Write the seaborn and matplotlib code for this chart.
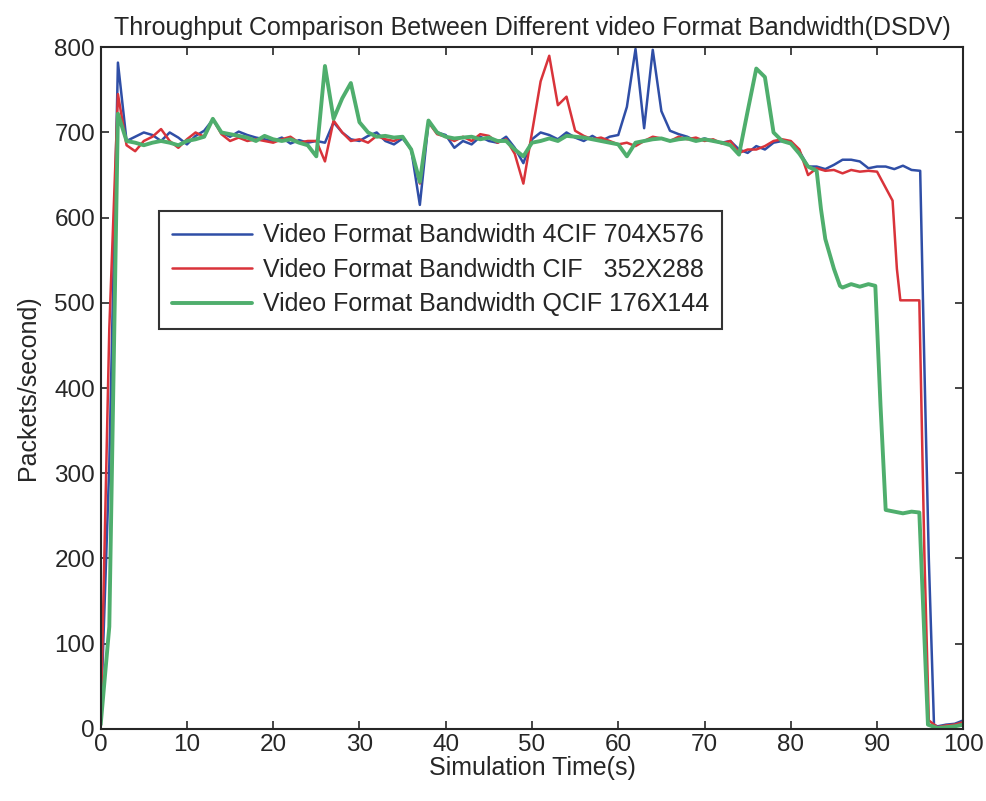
import pandas as pd
import matplotlib
matplotlib.use('Agg')
import matplotlib.pyplot as plt
import seaborn as sns

# Series data (time in s, packets/second)
t_4cif = list(range(0, 95)) + [95, 95.5, 96, 96.6, 97, 98, 99, 100]
v_4cif = [10, 310, 782, 690, 695, 700, 697, 690, 700, 694, 686,
          696, 702, 715, 700, 695, 701, 697, 694, 692, 690,
          694, 687, 691, 688, 690, 688, 712, 700, 692, 690,
          696, 700, 690, 686, 693, 680, 615, 712, 700, 697,
          682, 690, 686, 695, 690, 688, 695, 682, 664, 692,
          700, 697, 692, 700, 694, 690, 696, 690, 695, 697,
          730, 798, 705, 797, 725, 702, 698, 695, 690, 693,
          690, 688, 690, 680, 676, 684, 680, 688, 690, 688,
          678, 660, 660, 657, 662, 668, 668, 666, 658, 660,
          660, 657, 661, 656,
          655, 420, 200, 5, 3, 5, 6, 10]

t_cif = list(range(0, 91)) + [91.8, 92.3, 92.7, 93, 94, 94.9, 95.5, 96, 97, 98, 99, 100]
v_cif = [5, 470, 745, 685, 678, 690, 695, 704, 690, 682, 692,
         700, 695, 716, 698, 690, 694, 690, 692, 690, 688,
         692, 695, 688, 690, 690, 666, 714, 700, 690, 692,
         688, 696, 692, 690, 695, 680, 640, 712, 698, 695,
         690, 695, 690, 698, 696, 688, 692, 675, 640, 700,
         760, 790, 732, 742, 702, 696, 692, 694, 690, 686,
         688, 684, 690, 695, 693, 690, 695, 692, 694, 690,
         692, 687, 690, 676, 680, 680, 684, 690, 692, 690,
         680, 650, 658, 655, 656, 652, 656, 654, 655, 654,
         620, 540, 503, 503, 503, 503, 200, 10, 2, 4, 5, 8]

t_qcif = list(range(0, 84)) + [83.5, 84, 85, 85.7, 86, 87, 88, 89, 89.8, 90.4, 91,
                               92, 93, 94, 94.9, 95.9, 97, 98, 99, 100]
v_qcif = [5, 120, 722, 690, 688, 685, 688, 690, 688, 685, 690,
          692, 695, 716, 700, 698, 696, 694, 690, 696, 692,
          690, 692, 688, 685, 672, 778, 716, 740, 758, 712,
          700, 695, 696, 694, 695, 680, 642, 714, 700, 695,
          693, 694, 695, 692, 694, 690, 690, 680, 672, 688,
          690, 693, 690, 696, 695, 694, 692, 690, 688, 686,
          672, 688, 690, 692, 693, 690, 692, 693, 690, 692,
          690, 688, 685, 674, 725, 775, 765, 700, 690, 687,
          675, 660, 655,
          610, 575, 540, 520, 518, 522, 519, 522, 520, 380, 257,
          255, 253, 255, 254, 5, 1, 2, 3, 5]

labels = ['Video Format Bandwidth 4CIF 704X576',
          'Video Format Bandwidth CIF   352X288',
          'Video Format Bandwidth QCIF 176X144']
colors = ['#2f4ea6', '#d9333a', '#4fae6d']
widths = [1.8, 1.8, 2.8]

df = pd.concat([
    pd.DataFrame({'time': t_4cif, 'rate': v_4cif, 'series': labels[0]}),
    pd.DataFrame({'time': t_cif, 'rate': v_cif, 'series': labels[1]}),
    pd.DataFrame({'time': t_qcif, 'rate': v_qcif, 'series': labels[2]}),
])

sns.set_style('ticks')
plt.rcParams['font.family'] = ['Liberation Sans', 'DejaVu Sans']
plt.rcParams['xtick.direction'] = 'in'
plt.rcParams['ytick.direction'] = 'in'

fig = plt.figure(figsize=(9.87, 8.01), dpi=100)
ax = fig.add_axes([0.102, 0.090, 0.874, 0.851])

sns.lineplot(data=df, x='time', y='rate', hue='series', palette=colors,
             estimator=None, ax=ax)
for line, w in zip(ax.get_lines(), widths):
    line.set_linewidth(w)

ax.set_xlim(0, 100)
ax.set_ylim(0, 800)
ax.set_xticks(range(0, 101, 10))
ax.set_yticks(range(0, 801, 100))
ax.tick_params(labelsize=17.5, top=True, right=True, length=6, width=1.2, pad=4)
for s in ax.spines.values():
    s.set_linewidth(1.5)
ax.set_xlabel('Simulation Time(s)', fontsize=18, labelpad=0)
ax.set_ylabel('Packets/second)', fontsize=18, labelpad=10)
ax.set_title('Throughput Comparison Between Different video Format Bandwidth(DSDV)',
             fontsize=18, pad=9)

leg = ax.legend(loc='upper left', bbox_to_anchor=(0.068, 0.760), fontsize=18,
                frameon=True, fancybox=False, edgecolor='black',
                handlelength=3.2, handletextpad=0.45, borderpad=0.5,
                labelspacing=0.42, borderaxespad=0)
leg.get_frame().set_linewidth(1.5)
for h, w in zip(leg.get_lines(), widths):
    h.set_linewidth(w)

fig.savefig('out.png', dpi=100)
